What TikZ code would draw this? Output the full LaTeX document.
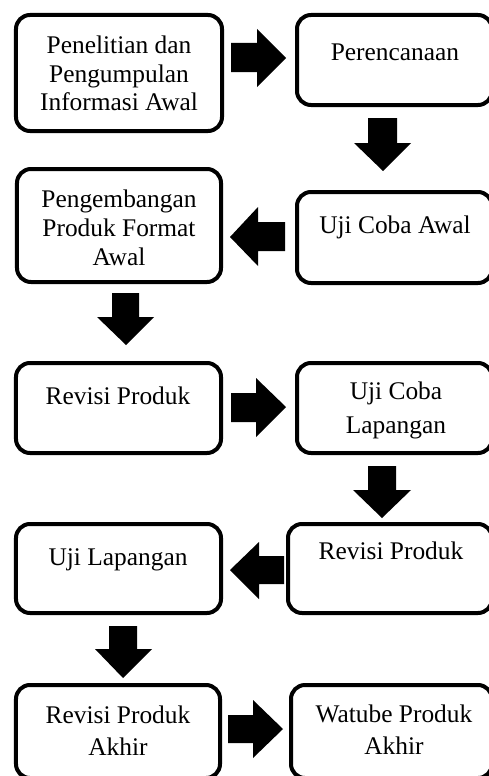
\documentclass[tikz,border=0pt]{standalone}
\usepackage{fontspec}
\setmainfont{Liberation Serif}
\begin{document}
\begin{tikzpicture}[x=1bp,y=-1bp,
  box/.style={draw=black,line width=4bp,rounded corners=14bp,inner sep=0pt,fill=white},
  txt/.style={anchor=north,align=center,inner sep=0pt},
  blk/.style={fill=black}]
\useasboundingbox (0,0) rectangle (489,776);
\clip (0,0) rectangle (489,776);
% boxes
\node[box,minimum width=206bp,minimum height=116bp] (bA) at (119,73) {};
\node[box,minimum width=195bp,minimum height=90bp] (bB) at (394.5,60) {};
\node[box,minimum width=204bp,minimum height=113bp] (bC) at (119,225.5) {};
\node[box,minimum width=195bp,minimum height=91bp] (bD) at (394.5,237.5) {};
\node[box,minimum width=205bp,minimum height=90bp] (bE) at (118.5,408) {};
\node[box,minimum width=195bp,minimum height=90bp] (bF) at (394.5,408) {};
\node[box,minimum width=204bp,minimum height=89bp] (bG) at (390,568.5) {};
\node[box,minimum width=205bp,minimum height=89bp] (bH) at (118.5,568.5) {};
\node[box,minimum width=204bp,minimum height=93bp] (bI) at (118,731.5) {};
\node[box,minimum width=201bp,minimum height=93bp] (bJ) at (391.5,731.5) {};
% texts
\node[txt,font={\fontsize{25.5}{29}\selectfont}] (tA) at (119,32.7) {\strut Penelitian dan\\Pengumpulan\\Informasi Awal};
\node[txt,font={\fontsize{25.5}{29}\selectfont}] (tB) at (395,39.7) {\strut Perencanaan};
\node[txt,font={\fontsize{25.5}{29.5}\selectfont}] (tC) at (119,186.4) {\strut Pengembangan\\Produk Format\\Awal};
\node[txt,font={\fontsize{25.5}{29}\selectfont}] (tD) at (395,212.7) {\strut Uji Coba Awal};
\node[txt,font={\fontsize{25.5}{29}\selectfont}] (tE) at (118,383.7) {\strut Revisi Produk};
\node[txt,font={\fontsize{25.5}{35}\selectfont}] (tF) at (396,374.5) {\strut Uji Coba\\Lapangan};
\node[txt,font={\fontsize{25.5}{29}\selectfont}] (tG) at (391,538.7) {\strut Revisi Produk};
\node[txt,font={\fontsize{25.5}{29}\selectfont}] (tH) at (118,544.7) {\strut Uji Lapangan};
\node[txt,font={\fontsize{25.5}{32}\selectfont}] (tI) at (118,700.6) {\strut Revisi Produk\\Akhir};
\node[txt,font={\fontsize{25.5}{33}\selectfont}] (tJ) at (394,698.9) {\strut Watube Produk\\Akhir};
% block arrows
\fill[blk] (231,43) -- (257,43) -- (257,29) -- (286,58) -- (257,87) -- (257,72) -- (231,72) -- cycle;
\fill[blk] (368,118) -- (397,118) -- (397,143) -- (411,143) -- (383,171) -- (354,143) -- (368,143) -- cycle;
\fill[blk] (285,222) -- (258,222) -- (258,207) -- (230,237) -- (258,266) -- (258,251) -- (285,251) -- cycle;
\fill[blk] (112,293) -- (139,293) -- (139,317) -- (154,317) -- (126,345) -- (97,317) -- (112,317) -- cycle;
\fill[blk] (231,393) -- (256,393) -- (256,378) -- (286,407) -- (256,437) -- (256,422) -- (231,422) -- cycle;
\fill[blk] (368,466) -- (396,466) -- (396,490) -- (411,490) -- (382,518) -- (353,490) -- (368,490) -- cycle;
\fill[blk] (284,556) -- (259,556) -- (259,542) -- (230,570) -- (259,599) -- (259,584) -- (284,584) -- cycle;
\fill[blk] (109,626) -- (137,626) -- (137,649) -- (152,649) -- (123,678) -- (95,649) -- (109,649) -- cycle;
\fill[blk] (228,715) -- (253,715) -- (253,700) -- (283,729) -- (253,758) -- (253,743) -- (228,743) -- cycle;
\end{tikzpicture}
\end{document}
